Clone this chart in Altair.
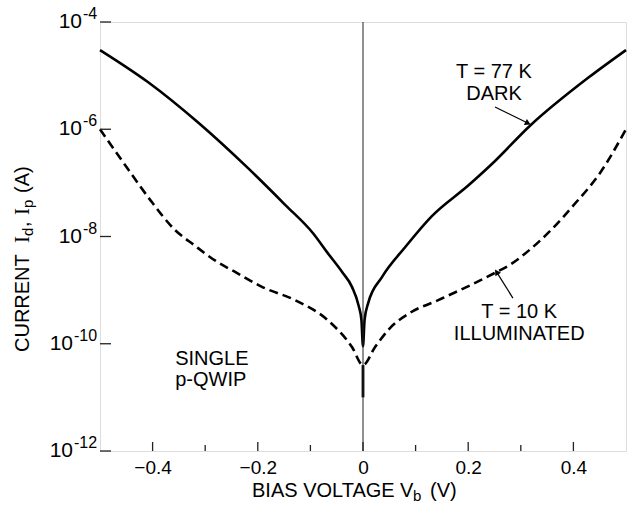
import altair as alt
import pandas as pd

# ---- data ----
dark_v = [-0.5, -0.409, -0.314, -0.219, -0.148, -0.095, -0.067, -0.04, -0.021, -0.008, -0.003, 0.0,
          0.003, 0.01, 0.036, 0.08, 0.131, 0.2, 0.243, 0.319, 0.428, 0.5]
dark_i = [3.0e-5, 7.6e-6, 1.35e-6, 1.9e-7, 3.9e-8, 1.15e-8, 4.9e-9, 2.2e-9, 1.15e-9, 5.0e-10, 2.8e-10, 9.0e-11,
          2.8e-10, 5.8e-10, 1.75e-9, 6.3e-9, 2.4e-8, 8.9e-8, 2.15e-7, 1.2e-6, 9.1e-6, 3.0e-5]

ill_v = [-0.5, -0.45, -0.4, -0.36, -0.32, -0.28, -0.24, -0.192, -0.129, -0.067, -0.021, 0.0,
         0.023, 0.05, 0.09, 0.143, 0.251, 0.28, 0.32, 0.36, 0.4, 0.45, 0.5]
ill_i = [1.0e-6, 2.0e-7, 4.2e-8, 1.4e-8, 6.8e-9, 3.5e-9, 2.1e-9, 1.15e-9, 6.5e-10, 2.75e-10, 8.7e-11, 4.0e-11,
         8.7e-11, 1.9e-10, 3.8e-10, 6.5e-10, 2.1e-9, 3.0e-9, 6.0e-9, 1.4e-8, 3.8e-8, 1.5e-7, 1.0e-6]

spike_v = [0.0, 0.0]
spike_i = [4.0e-11, 1.0e-11]

y_short_vals = [1e-8, 1e-6, 1e-4]
y_short_exp = ["-8", "-6", "-4"]
y_long_vals = [1e-12, 1e-10]
y_long_exp = ["-12", "-10"]
y_tick_vals = y_long_vals + y_short_vals

x_major = [-0.4, -0.2, 0.0, 0.2, 0.4]
x_major_text = ["−0.4", "−0.2", "0", "0.2", "0.4"]
x_minor = [-0.3, -0.1, 0.1, 0.3]

label_text = ["T = 77 K", "DARK", "T = 10 K", "ILLUMINATED"]
label_v = [0.249, 0.249, 0.297, 0.297]
label_i = [1.17e-5, 4.6e-6, 3.9e-10, 1.5e-10]

note_text = ["SINGLE", "p-QWIP"]
note_v = [-0.357, -0.357]
note_i = [5.1e-11, 2.1e-11]

arrow_id = ["dark", "dark", "ill", "ill"]
arrow_v = [0.251, 0.312, 0.285, 0.255]
arrow_i = [2.6e-6, 1.32e-6, 7.1e-10, 2.1e-9]
head_v = [0.312, 0.255]
head_i = [1.32e-6, 2.1e-9]
head_angle = [117, 327]

FONT = "Liberation Sans"
W, H = 526, 429

xs = alt.Scale(domain=[-0.5, 0.5], nice=False, zero=False)
ys = alt.Scale(type="log", domain=[1e-12, 1e-4], nice=False)

x_label_expr = "''"
for v, t in zip(x_major, x_major_text):
    x_label_expr = f"abs(datum.value - ({v})) < 0.001 ? '{t}' : " + x_label_expr

x_enc = alt.X("v:Q", scale=xs, axis=alt.Axis(values=x_major, labelExpr=x_label_expr, tickSize=0,
                                               domain=False, grid=False, labelFontSize=19, labelFont=FONT,
                                               labelColor="black", labelPadding=7, title=None))
y_enc = alt.Y("i:Q", scale=ys, axis=None)

dark = alt.Chart(pd.DataFrame({"v": dark_v, "i": dark_i})).mark_line(
    color="black", strokeWidth=2.6, interpolate="monotone").encode(x=x_enc, y=y_enc)
ill = alt.Chart(pd.DataFrame({"v": ill_v, "i": ill_i})).mark_line(
    color="black", strokeWidth=2.6, strokeDash=[9, 5], interpolate="monotone").encode(x="v:Q", y="i:Q")
spike = alt.Chart(pd.DataFrame({"v": spike_v, "i": spike_i})).mark_line(
    color="black", strokeWidth=2.8).encode(x="v:Q", y="i:Q")

zero = alt.Chart(pd.DataFrame({"v": [0.0]})).mark_rule(color="#222", strokeWidth=1).encode(x="v:Q")

xt_major = alt.Chart(pd.DataFrame({"v": x_major})).mark_rule(color="#222", strokeWidth=1.3).encode(
    x="v:Q", y=alt.value(H), y2=alt.value(H - 9))
xt_minor = alt.Chart(pd.DataFrame({"v": x_minor})).mark_rule(color="#222", strokeWidth=1.3).encode(
    x="v:Q", y=alt.value(H), y2=alt.value(H - 6))
yt = alt.Chart(pd.DataFrame({"i": y_tick_vals})).mark_rule(color="#222", strokeWidth=1.3).encode(
    y="i:Q", x=alt.value(0), x2=alt.value(11))

# y tick labels: "10" with a raised exponent
def ylabels(vals, exps, base_right):
    df = pd.DataFrame({"i": vals, "e": exps, "b": ["10"] * len(vals)})
    base = alt.Chart(df).mark_text(font=FONT, fontSize=21, color="black", align="right",
                                   baseline="middle").encode(y="i:Q", text="b:N", x=alt.value(base_right))
    exp = alt.Chart(df).mark_text(font=FONT, fontSize=16, color="black", align="left",
                                  baseline="middle", dy=-8).encode(y="i:Q", text="e:N",
                                                                   x=alt.value(base_right + 1))
    return [base, exp]

ylab_layers = ylabels(y_short_vals, y_short_exp, -18) + ylabels(y_long_vals, y_long_exp, -27)

labels = alt.Chart(pd.DataFrame({"v": label_v, "i": label_i, "t": label_text})).mark_text(
    font=FONT, fontSize=20, color="black", align="center", baseline="middle").encode(
    x="v:Q", y="i:Q", text="t:N")
notes = alt.Chart(pd.DataFrame({"v": note_v, "i": note_i, "t": note_text})).mark_text(
    font=FONT, fontSize=20, color="black", align="left", baseline="middle").encode(
    x="v:Q", y="i:Q", text="t:N")

arrows = alt.Chart(pd.DataFrame({"v": arrow_v, "i": arrow_i, "a": arrow_id})).mark_line(
    color="black", strokeWidth=1.2).encode(x="v:Q", y="i:Q", detail="a:N")
heads = alt.Chart(pd.DataFrame({"v": head_v, "i": head_i, "ang": head_angle})).mark_point(
    shape="triangle", filled=True, color="black", size=45, opacity=1).encode(
    x="v:Q", y="i:Q", angle=alt.Angle("ang:Q", scale=None))

# rotated y-axis title pieces
ytitle = [
    ("CURRENT", 330, 0, 20, FONT),
    ("I", 221, 0, 21, "Liberation Serif"),
    ("d", 214, 5, 15, FONT),
    (",", 205, 0, 20, FONT),
    ("I", 193, 0, 21, "Liberation Serif"),
    ("p", 186, 5, 15, FONT),
    ("(A)", 171, 0, 20, FONT),
]
ytitle_layers = [
    alt.Chart(pd.DataFrame({"t": [t]})).mark_text(
        font=f, fontSize=fs, angle=270, align="left", baseline="middle", color="black").encode(
        text="t:N", x=alt.value(-77 + dx), y=alt.value(yp))
    for t, yp, dx, fs, f in ytitle
]
xtitle = [
    ("BIAS VOLTAGE", 152, 0, 20),
    ("V", 300, 0, 20),
    ("b", 313, 5, 15),
    ("(V)", 330, 0, 20),
]
xtitle_layers = [
    alt.Chart(pd.DataFrame({"t": [t]})).mark_text(
        font=FONT, fontSize=fs, align="left", baseline="middle", color="black").encode(
        text="t:N", x=alt.value(xp), y=alt.value(H + 40 + dy))
    for t, xp, dy, fs in xtitle
]

chart = alt.layer(dark, ill, spike, zero, xt_major, xt_minor, yt, labels, notes, arrows, heads,
                  *ylab_layers, *ytitle_layers, *xtitle_layers).properties(
    width=W, height=H, autosize="none",
    padding={"left": 100, "top": 22, "right": 5, "bottom": 54},
).configure_view(stroke="#222", strokeWidth=1.4).configure(background="white")

chart.save("out.html", embed_options={"renderer": "svg", "actions": False})
